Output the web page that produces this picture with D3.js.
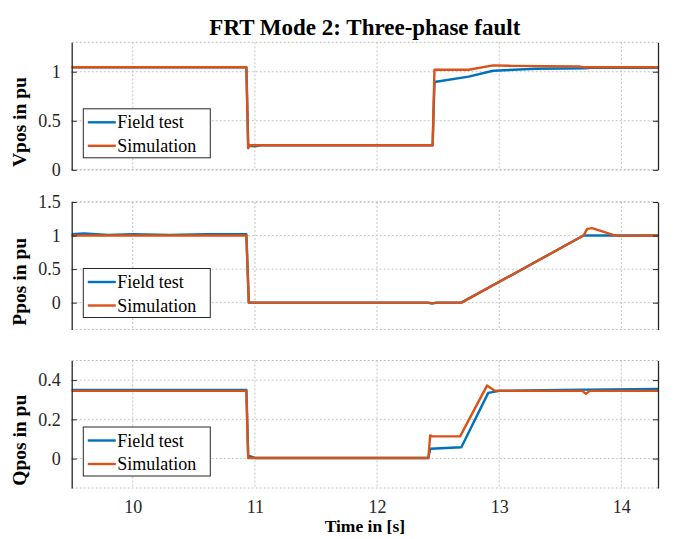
<!DOCTYPE html>
<html><head><meta charset="utf-8">
<script src="https://cdn.jsdelivr.net/npm/d3@7"></script>
<style>body{margin:0;background:#fff}svg{display:block}</style>
</head><body>
<svg id="c" width="680" height="539"></svg>
<script>
// ---- data ----
const xTicks = [10, 11, 12, 13, 14];
const seriesNames = ["Field test", "Simulation"];
const seriesColors = ["#0072BD", "#D95319"];

const vFieldT = [9.5, 10.93, 10.945, 11.0, 11.05, 12.455, 12.47, 12.75, 12.95, 13.3, 13.7, 13.75, 14.3];
const vFieldY = [1.045, 1.045, 0.245, 0.24, 0.25, 0.25, 0.895, 0.95, 1.01, 1.03, 1.035, 1.04, 1.04];
const vSimT = [9.5, 10.93, 10.945, 10.96, 12.455, 12.47, 12.75, 12.95, 13.1, 13.65, 13.7, 14.3];
const vSimY = [1.045, 1.045, 0.22, 0.25, 0.25, 1.02, 1.02, 1.065, 1.06, 1.055, 1.045, 1.045];

const pFieldT = [9.5, 9.6, 9.8, 10.0, 10.3, 10.6, 10.93, 10.95, 12.4, 12.45, 12.5, 12.69, 13.69, 14.3];
const pFieldY = [1.02, 1.03, 1.01, 1.02, 1.01, 1.02, 1.02, 0.0, 0.0, -0.01, 0.0, 0.0, 1.0, 1.0];
const pSimT = [9.5, 10.93, 10.95, 12.43, 12.45, 12.48, 12.69, 13.69, 13.72, 13.76, 13.85, 13.95, 14.0, 14.3];
const pSimY = [1.0, 1.0, 0.0, 0.0, -0.015, 0.0, 0.0, 1.0, 1.1, 1.11, 1.06, 1.0, 0.995, 1.0];

const qFieldT = [9.5, 10.93, 10.945, 10.97, 11.0, 12.42, 12.435, 12.69, 12.91, 13.0, 13.5, 14.3];
const qFieldY = [0.35, 0.35, 0.015, 0.01, 0.003, 0.003, 0.05, 0.058, 0.335, 0.345, 0.35, 0.355];
const qSimT = [9.5, 10.93, 10.945, 12.42, 12.435, 12.45, 12.68, 12.9, 12.96, 13.1, 13.68, 13.71, 13.74, 14.3];
const qSimY = [0.345, 0.345, 0.003, 0.003, 0.118, 0.113, 0.113, 0.372, 0.347, 0.345, 0.345, 0.33, 0.345, 0.345];

const panels = [
  {label: "Vpos in pu", domain: [0, 1.3], ticks: [0, 0.5, 1], tickFmt: ["0","0.5","1"],
   series: [[vFieldT, vFieldY], [vSimT, vSimY]]},
  {label: "Ppos in pu", domain: [-0.4, 1.5], ticks: [0, 0.5, 1, 1.5], tickFmt: ["0","0.5","1","1.5"],
   series: [[pFieldT, pFieldY], [pSimT, pSimY]]},
  {label: "Qpos in pu", domain: [-0.15, 0.5], ticks: [0, 0.2, 0.4], tickFmt: ["0","0.2","0.4"],
   series: [[qFieldT, qFieldY], [qSimT, qSimY]]}
];

// ---- layout ----
const L = 71.7, R = 658;
const tops = [42.3, 202, 360.5], H = 127.5;
const font = "'Liberation Serif','Times New Roman',serif";
const svg = d3.select("#c");
const x = d3.scaleLinear().domain([9.5, 14.3]).range([L, R]);

svg.append("text").attr("x", (L + R) / 2).attr("y", 35).attr("text-anchor", "middle")
  .attr("font-family", font).attr("font-weight", "bold").attr("font-size", 23).attr("fill", "#000")
  .text("FRT Mode 2: Three-phase fault");

panels.forEach((p, i) => {
  const top = tops[i], bot = top + H;
  const y = d3.scaleLinear().domain(p.domain).range([bot, top]);
  const g = svg.append("g");
  const grid = "#c4c4c4";
  // grid
  xTicks.forEach(t => g.append("line").attr("x1", x(t)).attr("x2", x(t)).attr("y1", top).attr("y2", bot)
    .attr("stroke", grid).attr("stroke-dasharray", "2,2"));
  p.ticks.forEach(t => g.append("line").attr("x1", L).attr("x2", R).attr("y1", y(t)).attr("y2", y(t))
    .attr("stroke", grid).attr("stroke-dasharray", "2,2"));
  // top/bottom borders dotted
  [top, bot].forEach(yy => g.append("line").attr("x1", L).attr("x2", R).attr("y1", yy).attr("y2", yy)
    .attr("stroke", "#bdbdbd").attr("stroke-dasharray", "2,2"));
  // lines
  const line = d3.line().x(d => x(d[0])).y(d => y(d[1]));
  p.series.forEach((s, k) => {
    const pts = s[0].map((t, j) => [t, s[1][j]]);
    g.append("path").attr("d", line(pts)).attr("fill", "none").attr("stroke", seriesColors[k])
      .attr("stroke-width", 2.4).attr("stroke-linejoin", "round");
  });
  // left and right axes
  const axL = d3.axisLeft(y).tickValues(p.ticks).tickSizeInner(-5).tickSizeOuter(0).tickPadding(11)
    .tickFormat((d, j) => p.tickFmt[j]);
  const gl = g.append("g").attr("transform", `translate(${L},0)`).call(axL);
  gl.select(".domain").attr("stroke", "#262626").attr("stroke-width", 1.3);
  gl.selectAll(".tick line").attr("stroke", "#262626");
  gl.selectAll(".tick text").attr("font-family", font).attr("font-size", 18).attr("fill", "#262626");
  const axR = d3.axisRight(y).tickValues(p.ticks).tickSizeInner(-5).tickSizeOuter(0).tickFormat("");
  const gr = g.append("g").attr("transform", `translate(${R},0)`).call(axR);
  gr.select(".domain").attr("stroke", "#262626").attr("stroke-width", 1.3);
  gr.selectAll(".tick line").attr("stroke", "#262626");
  // y label
  svg.append("text").attr("transform", `translate(26,${(top + bot) / 2 + 16}) rotate(-90)`)
    .attr("text-anchor", "middle").attr("font-family", font).attr("font-weight", "bold")
    .attr("font-size", 19.5).attr("fill", "#000").text(p.label);
  // legend
  const lx = 83.3, ly = top + 66.5, lw = 127, lh = 49;
  const lg = g.append("g");
  lg.append("rect").attr("x", lx).attr("y", ly).attr("width", lw).attr("height", lh)
    .attr("fill", "#fff").attr("stroke", "#262626").attr("stroke-width", 1);
  seriesNames.forEach((n, k) => {
    const yy = ly + 13.5 + k * 23.5;
    lg.append("line").attr("x1", lx + 4.5).attr("x2", lx + 32.5).attr("y1", yy).attr("y2", yy)
      .attr("stroke", seriesColors[k]).attr("stroke-width", 2.4);
    lg.append("text").attr("x", lx + 34).attr("y", yy + 6).attr("font-family", font)
      .attr("font-size", 18).attr("fill", "#000").text(n);
  });
  // x tick labels on bottom panel only
  if (i === 2) {
    const axB = d3.axisBottom(x).tickValues(xTicks).tickSize(0).tickPadding(12).tickFormat(d3.format("d"));
    const gb = g.append("g").attr("transform", `translate(0,${bot})`).call(axB);
    gb.select(".domain").remove();
    gb.selectAll(".tick text").attr("font-family", font).attr("font-size", 18).attr("fill", "#262626");
    svg.append("text").attr("x", (L + R) / 2).attr("y", 532).attr("text-anchor", "middle")
      .attr("font-family", font).attr("font-weight", "bold").attr("font-size", 17.5).attr("fill", "#000")
      .text("Time in [s]");
  }
});
</script>
</body></html>
